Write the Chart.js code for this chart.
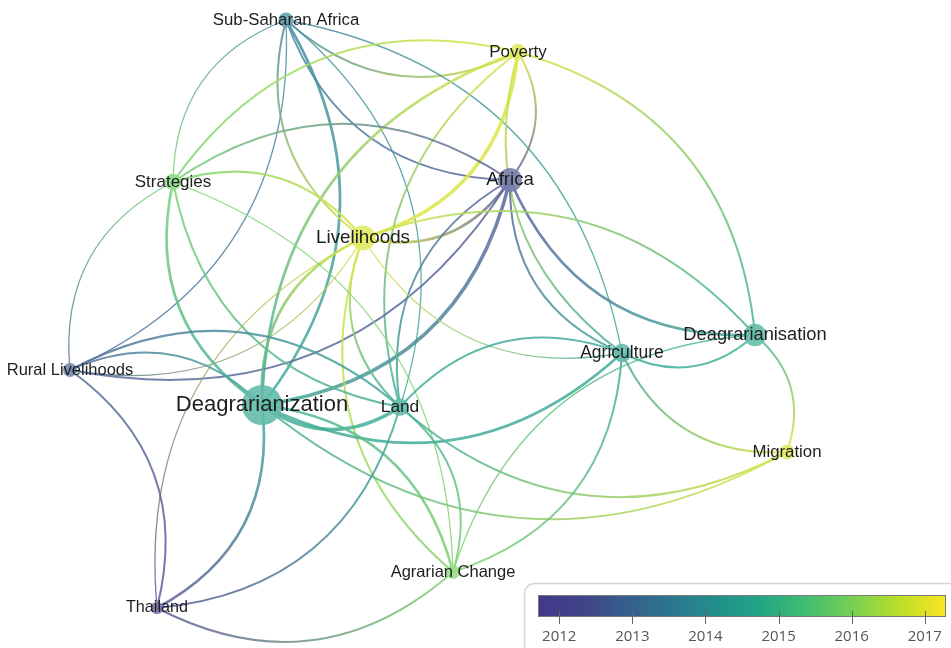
<!DOCTYPE html>
<html>
<head>
<meta charset="utf-8">
<script src="https://cdn.jsdelivr.net/npm/chart.js@4"></script>
<style>
  body { margin: 0; background: #fff; }
  #wrap { width: 951px; height: 648px; }
</style>
</head>
<body>
<div id="wrap"><canvas id="map" width="951" height="648"></canvas></div>
<script>
// Keyword nodes (map coordinates are in the same units as the page)
const nodeLabels = ["Sub-Saharan Africa", "Poverty", "Africa", "Strategies", "Livelihoods",
  "Deagrarianisation", "Agriculture", "Rural Livelihoods", "Deagrarianization", "Land",
  "Migration", "Agrarian Change", "Thailand"];
const nodeX = [286, 518, 510, 173, 363, 755, 622, 70, 262, 400, 787, 453, 157];
const nodeY = [20, 52, 180, 182, 238, 335, 353, 370, 405, 407, 452, 572, 608];
const nodeYear = [2013.6, 2016.9, 2012.4, 2015.8, 2016.9, 2014.7, 2014.5, 2012.8, 2014.6, 2014.6, 2016.9, 2015.9, 2012.0];
const nodeOccurrences = [6, 7, 15, 7, 16, 13, 9, 5, 42, 8, 6, 5, 4];

// Links: source -> target (order sets which way the curve bends), link strength
const edgeSource = [7, 0, 3, 0, 0, 8, 9, 0, 6, 4, 1, 1, 2, 1, 5, 1, 2, 4, 7, 8, 2, 2, 2, 4, 4, 4, 4, 4, 5, 7, 4, 3, 3, 11, 8, 9, 8, 8, 8, 11, 12, 12, 11, 6, 9, 11, 5, 6, 6, 10, 12, 12];
const edgeTarget = [0, 3, 7, 2, 1, 0, 0, 4, 0, 1, 3, 8, 1, 6, 1, 9, 3, 2, 2, 2, 9, 6, 5, 3, 8, 9, 11, 6, 4, 4, 12, 8, 9, 3, 7, 7, 9, 6, 10, 8, 8, 9, 9, 9, 10, 6, 11, 10, 5, 5, 11, 7];
const edgeStrength = [1, 1, 1, 2, 2, 3, 1, 2, 1, 4, 2, 3, 2, 2, 2, 2, 2, 3, 2, 4, 2, 2, 3, 2, 3, 2, 2, 1, 2, 1, 1, 3, 2, 1, 2, 2, 4, 3, 2, 3, 3, 2, 2, 2, 2, 2, 1, 2, 2, 2, 2, 2];

// Overlay colour scale
const scaleMin = 2011.71;
const scaleMax = 2017.29;
const colorbarTicks = [2012, 2013, 2014, 2015, 2016, 2017];

// viridis, from dark blue-purple to yellow
const viridis = [
  [66, 56, 140], [65, 68, 135], [53, 95, 141], [42, 120, 142], [33, 145, 140],
  [34, 168, 132], [68, 191, 112], [122, 209, 81], [189, 223, 38], [250, 230, 35]
];

// lighten: share of white mixed in (nodes and links look paler than the bar)
function yearColor(year, alpha, lighten = 0) {
  let t = (year - scaleMin) / (scaleMax - scaleMin);
  t = Math.max(0, Math.min(1, t)) * (viridis.length - 1);
  const i = Math.min(Math.floor(t), viridis.length - 2);
  const f = t - i;
  const c = viridis[i].map((v, k) => {
    const base = v + (viridis[i + 1][k] - v) * f;
    return Math.round(base + (255 - base) * lighten);
  });
  return `rgba(${c[0]},${c[1]},${c[2]},${alpha})`;
}

function nodeRadius(occ) {
  return 3.1 * Math.sqrt(occ);
}

// Curved links drawn under the bubbles
const linkPlugin = {
  id: "links",
  beforeDatasetsDraw(chart) {
    const ctx = chart.ctx;
    const xs = chart.scales.x;
    const ys = chart.scales.y;
    ctx.save();
    ctx.lineCap = "round";
    edgeSource.forEach((s, i) => {
      const t = edgeTarget[i];
      const x1 = xs.getPixelForValue(nodeX[s]);
      const y1 = ys.getPixelForValue(nodeY[s]);
      const x2 = xs.getPixelForValue(nodeX[t]);
      const y2 = ys.getPixelForValue(nodeY[t]);
      const dx = x2 - x1;
      const dy = y2 - y1;
      // bend to the right of the travel direction
      const cx = (x1 + x2) / 2 - dy * 0.34;
      const cy = (y1 + y2) / 2 + dx * 0.34;
      const grad = ctx.createLinearGradient(x1, y1, x2, y2);
      grad.addColorStop(0, yearColor(nodeYear[s], 0.85, 0.15));
      grad.addColorStop(1, yearColor(nodeYear[t], 0.85, 0.15));
      ctx.strokeStyle = grad;
      ctx.lineWidth = 0.6 + 0.7 * edgeStrength[i];
      ctx.beginPath();
      ctx.moveTo(x1, y1);
      ctx.quadraticCurveTo(cx, cy, x2, y2);
      ctx.stroke();
    });
    ctx.restore();
  },
  afterDatasetsDraw(chart) {
    const ctx = chart.ctx;
    const xs = chart.scales.x;
    const ys = chart.scales.y;
    ctx.save();
    ctx.textAlign = "center";
    ctx.textBaseline = "middle";
    ctx.fillStyle = "#1e1e1e";
    nodeLabels.forEach((label, i) => {
      const size = 13.6 + 0.42 * nodeRadius(nodeOccurrences[i]);
      ctx.font = `${size.toFixed(1)}px "Liberation Sans", Arial, sans-serif`;
      ctx.fillText(label, xs.getPixelForValue(nodeX[i]), ys.getPixelForValue(nodeY[i]));
    });
    ctx.restore();
  },
  afterDraw(chart) {
    // colour bar legend, bottom right
    const ctx = chart.ctx;
    const left = 538, right = 946, top = 595, bottom = 617;
    ctx.save();
    ctx.strokeStyle = "#d4d4d4";
    ctx.lineWidth = 1.5;
    ctx.beginPath();
    ctx.roundRect(524.5, 583.5, 440, 80, 10);
    ctx.stroke();

    const grad = ctx.createLinearGradient(left, 0, right, 0);
    for (let k = 0; k <= 20; k++) {
      grad.addColorStop(k / 20, yearColor(scaleMin + (scaleMax - scaleMin) * k / 20, 1));
    }
    ctx.fillStyle = grad;
    ctx.fillRect(left, top, right - left, bottom - top);
    ctx.strokeStyle = "#777";
    ctx.lineWidth = 1;
    ctx.strokeRect(left + 0.5, top + 0.5, right - left - 1, bottom - top - 1);

    ctx.strokeStyle = "#666";
    ctx.fillStyle = "#555";
    ctx.font = '15px "Open Sans", sans-serif';
    ctx.textAlign = "center";
    ctx.textBaseline = "middle";
    colorbarTicks.forEach((yr) => {
      const x = left + (yr - scaleMin) / (scaleMax - scaleMin) * (right - left);
      ctx.beginPath();
      ctx.moveTo(Math.round(x) + 0.5, 611);
      ctx.lineTo(Math.round(x) + 0.5, 624);
      ctx.stroke();
      ctx.fillText(String(yr), x, 637);
    });
    ctx.restore();
  },
};

const points = nodeLabels.map((label, i) => ({
  x: nodeX[i],
  y: nodeY[i],
  r: nodeRadius(nodeOccurrences[i]),
}));

const chart = new Chart(document.getElementById("map"), {
  type: "bubble",
  data: {
    datasets: [
      {
        data: points,
        backgroundColor: nodeYear.map((y) => yearColor(y, 0.9, 0.3)),
        borderWidth: 0,
        clip: false,
      },
    ],
  },
  options: {
    responsive: false,
    animation: false,
    layout: { padding: 0 },
    plugins: {
      legend: { display: false },
      tooltip: { enabled: false },
    },
    scales: {
      x: { type: "linear", min: 0, max: 951, display: false },
      y: { type: "linear", min: 0, max: 648, reverse: true, display: false },
    },
  },
  plugins: [linkPlugin],
});

// bubbles shrink the chart area; stretch the scales so map units equal page pixels
const area = chart.chartArea;
chart.options.scales.x.min = area.left;
chart.options.scales.x.max = area.right;
chart.options.scales.y.min = area.top;
chart.options.scales.y.max = area.bottom;
chart.update();
</script>
</body>
</html>
